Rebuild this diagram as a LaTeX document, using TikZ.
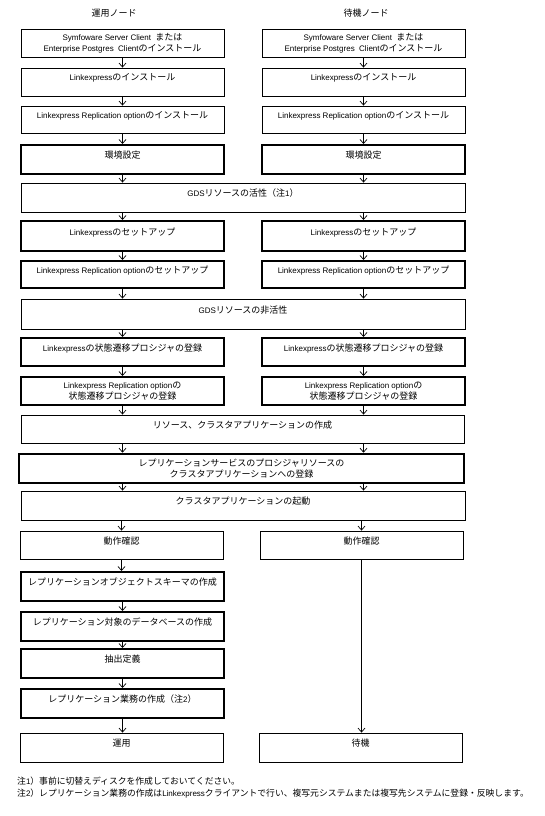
\documentclass[tikz,border=0pt]{standalone}
\usepackage{fontspec}
\setmainfont{Noto Sans CJK JP}
\newfontfamily\latf{Liberation Sans}
\newcommand{\ltn}[1]{{\latf\fontsize{8}{11}\selectfont #1}}
\usetikzlibrary{arrows.meta}
\tikzset{
  box/.style={draw,rectangle,line width=0.8pt,inner sep=0pt,align=center,font=\fontsize{9}{11}\selectfont},
  thk/.style={line width=2pt},
  vthk/.style={line width=2.6pt},
  one/.style={text height=7pt,text depth=9pt},
  two/.style={},
  arr/.style={-{Straight Barb[length=4pt,width=7pt]},line width=0.7pt},
  hdr/.style={font=\fontsize{9}{11}\selectfont,inner sep=0pt},
  note/.style={font=\fontsize{8.8}{11}\selectfont,inner sep=0pt,anchor=west}
}
\newcommand{\bx}[7]{\node[box,#2,minimum width={(#5-#3)*1pt},minimum height={(#6-#4)*1pt}] (#1) at ({(#3+#5)/2},{(#4+#6)/2}) {#7};}
\begin{document}
\begin{tikzpicture}[x=1pt,y=-1pt]
\useasboundingbox[fill=white] (0,0) rectangle (544,816);
% headers
\node[hdr] (hl) at (114,13) {運用ノード};
\node[hdr] (hr) at (366,13) {待機ノード};
% rows
\bx{l1}{two}{21}{29}{224}{57}{\ltn{Symfoware Server Client~~}または\\\ltn{Enterprise Postgres~~Client}のインストール}
\bx{r1}{two}{262}{29}{465}{57}{\ltn{Symfoware Server Client~~}または\\\ltn{Enterprise Postgres~~Client}のインストール}
\bx{l2}{one}{21}{68}{224}{96}{\ltn{Linkexpress}のインストール}
\bx{r2}{one}{262}{68}{465}{96}{\ltn{Linkexpress}のインストール}
\bx{l3}{one}{21}{106}{224}{133}{\ltn{Linkexpress Replication option}のインストール}
\bx{r3}{one}{262}{106}{465}{133}{\ltn{Linkexpress Replication option}のインストール}
\bx{l4}{one,thk}{21}{145}{224}{174}{環境設定}
\bx{r4}{one,thk}{262}{145}{465}{174}{環境設定}
\bx{g1}{one}{21}{183}{465}{212}{\ltn{GDS}リソースの活性（注\ltn{1}）}
\bx{l5}{one,thk}{21}{221}{224}{251}{\ltn{Linkexpress}のセットアップ}
\bx{r5}{one,thk}{262}{221}{465}{251}{\ltn{Linkexpress}のセットアップ}
\bx{l6}{one,thk}{21}{261}{224}{288}{\ltn{Linkexpress Replication option}のセットアップ}
\bx{r6}{one,thk}{262}{261}{465}{288}{\ltn{Linkexpress Replication option}のセットアップ}
\bx{g2}{one}{21}{299}{465}{329}{\ltn{GDS}リソースの非活性}
\bx{l7}{one,thk}{21}{338}{224}{366}{\ltn{Linkexpress}の状態遷移プロシジャの登録}
\bx{r7}{one,thk}{262}{338}{465}{366}{\ltn{Linkexpress}の状態遷移プロシジャの登録}
\bx{l8}{two,thk}{21}{377}{224}{405}{\ltn{Linkexpress Replication option}の\\状態遷移プロシジャの登録}
\bx{r8}{two,thk}{262}{377}{465}{405}{\ltn{Linkexpress Replication option}の\\状態遷移プロシジャの登録}
\bx{g3}{one}{21}{415}{464}{443}{リソース、クラスタアプリケーションの作成}
\bx{g4}{two,vthk}{19}{454}{464}{483}{レプリケーションサービスのプロシジャリソースの\\クラスタアプリケーションへの登録}
\bx{g5}{one}{21}{491}{465}{520}{クラスタアプリケーションの起動}
\bx{l9}{one}{20}{531}{223}{559}{動作確認}
\bx{r9}{one}{260}{531}{463}{559}{動作確認}
\bx{l10}{one,thk}{21}{572}{224}{601}{レプリケーションオブジェクトスキーマの作成}
\bx{l11}{one,thk}{21}{612}{224}{641}{レプリケーション対象のデータベースの作成}
\bx{l12}{one,thk}{21}{649}{224}{678}{抽出定義}
\bx{l13}{one,thk}{21}{689}{224}{718}{レプリケーション業務の作成（注\ltn{2}）}
\bx{l14}{one}{20}{733}{223}{762}{運用}
\bx{r14}{one}{259}{733}{462}{762}{待機}
% connectors
\foreach \a/\b in {l1/l2,l2/l3,l3/l4,r1/r2,r2/r3,r3/r4,l5/l6,r5/r6,l7/l8,r7/r8,l9/l10,l10/l11,l11/l12,l12/l13,l13/l14}
  \draw[arr] (\a.south) -- (\a.south |- \b.north);
\draw[arr] (r9.south) -- (r9.south |- r14.north);
\foreach \a/\g in {l4/g1,r4/g1,l6/g2,r6/g2,l8/g3,r8/g3}
  \draw[arr] (\a.south) -- (\a.south |- \g.north);
\foreach \g/\b in {g1/l5,g1/r5,g2/l7,g2/r7,g5/l9,g5/r9}
  \draw[arr] (\g.south -| \b.north) -- (\b.north);
\draw[arr] (g3.south -| l8.south) -- (g4.north -| l8.south);
\draw[arr] (g3.south -| r8.south) -- (g4.north -| r8.south);
\draw[arr] (g4.south -| l8.south) -- (g5.north -| l8.south);
\draw[arr] (g4.south -| r8.south) -- (g5.north -| r8.south);
% notes
\node[note] (n1) at (17,781) {注\ltn{1}）事前に切替えディスクを作成しておいてください。};
\node[note] (n2) at (17,794) {注\ltn{2}）レプリケーション業務の作成は\ltn{Linkexpress}クライアントで行い、複写元システムまたは複写先システムに登録・反映します。};
\end{tikzpicture}
\end{document}
